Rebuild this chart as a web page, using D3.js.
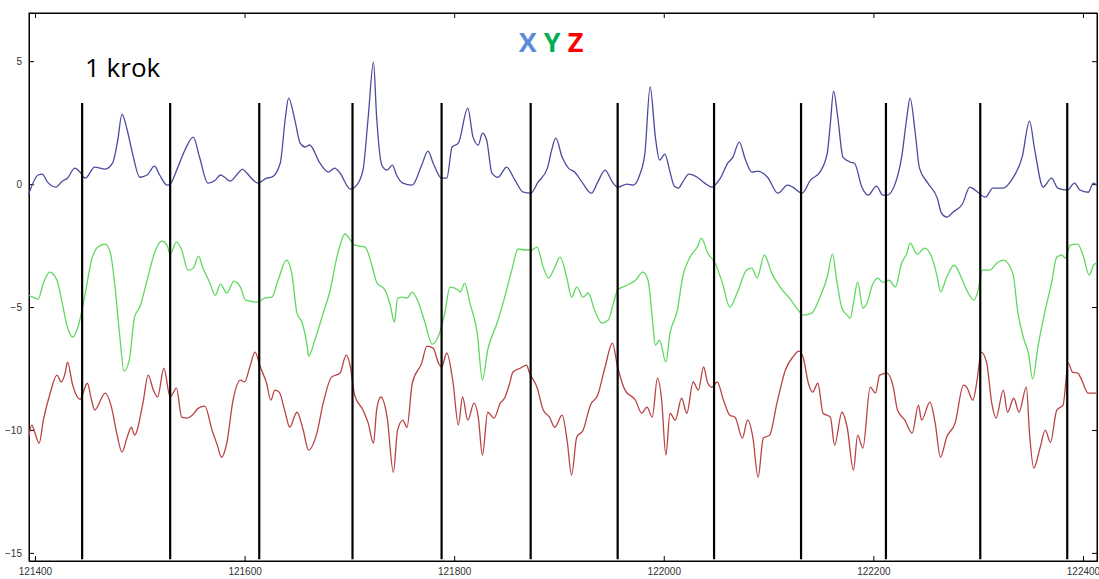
<!DOCTYPE html>
<html>
<head>
<meta charset="utf-8">
<script src="https://cdn.jsdelivr.net/npm/d3@7"></script>
<style>
  body { margin: 0; background: #fff; }
  .axis text { font-family: "Liberation Sans", Arial, sans-serif; font-size: 10px; fill: #333; }
  .axis line, .axis path { stroke: #000; }
</style>
</head>
<body>
<div id="my_dataviz"></div>
<script>
// ---------------------------//
//       DATA                 //
// ---------------------------//

var xTicks = [121400, 121600, 121800, 122000, 122200, 122400];
var yTicks = [5, 0, -5, -10, -15];

// one step boundary per footfall
var stepX = [121445, 121529, 121614, 121703, 121788, 121873, 121956, 122048, 122131, 122212, 122302, 122385];
var stepTop = 3.3, stepBottom = -15.26;

// X axis (blue)
var seriesX = [[121394,-0.41],[121403,0.37],[121407,0.41],[121412,0.08],[121420,-0.12],[121426,0.12],[121431,0.24],[121438,0.65],[121443,0.49],[121448,0.24],[121457,0.69],[121467,0.61],[121474,0.85],[121479,1.79],[121483,2.85],[121488,2.20],[121493,1.26],[121500,0.28],[121507,0.37],[121514,0.73],[121519,0.37],[121526,-0.04],[121529,0],[121536,0.65],[121543,1.38],[121551,1.91],[121557,1.10],[121565,0.04],[121572,0.16],[121577,0.37],[121581,0.28],[121586,0.12],[121594,0.45],[121598,0.61],[121602,0.45],[121613,0.04],[121621,0.24],[121626,0.28],[121634,0.85],[121639,2.73],[121642,3.50],[121648,2.60],[121653,1.67],[121658,1.51],[121662,1.59],[121672,0.85],[121680,0.49],[121686,0.65],[121691,0.45],[121701,-0.20],[121707,-0.04],[121713,0.57],[121718,2.73],[121723,4.96],[121726,2.73],[121731,0.77],[121736,0.57],[121741,0.77],[121745,0.37],[121751,0.04],[121760,-0.04],[121769,0.77],[121775,1.34],[121780,0.85],[121788,0.24],[121793,0.24],[121798,1.51],[121804,1.67],[121813,3.09],[121818,1.91],[121823,1.59],[121827,2.07],[121831,1.79],[121836,0.45],[121842,0.28],[121850,0.69],[121858,0.16],[121866,-0.33],[121873,-0.37],[121880,0.08],[121889,0.65],[121893,1.38],[121897,1.87],[121903,1.10],[121909,0.65],[121915,0.49],[121922,0.08],[121931,-0.37],[121937,0.08],[121944,0.57],[121951,0.08],[121956,-0.12],[121965,0],[121971,-0.04],[121977,0.37],[121982,1.26],[121987,3.95],[121992,1.91],[121996,0.98],[122001,1.22],[122006,0.49],[122010,-0.08],[122014,-0.16],[122018,0.08],[122024,0.41],[122032,0.28],[122039,0.04],[122046,-0.12],[122054,0.24],[122061,0.85],[122066,1.10],[122072,1.71],[122078,0.98],[122084,0.49],[122090,0.53],[122099,0.28],[122109,-0.37],[122118,-0.04],[122123,-0.12],[122132,-0.37],[122140,0.16],[122149,0.49],[122156,1.26],[122159,2.48],[122162,3.78],[122166,2.73],[122171,1.10],[122178,0.89],[122182,0.85],[122189,-0.12],[122195,-0.45],[122203,-0.08],[122209,-0.45],[122213,-0.45],[122221,0.04],[122227,1.10],[122232,2.73],[122235,3.50],[122240,2.07],[122244,0.65],[122252,0.04],[122261,-0.57],[122265,-1.18],[122270,-1.34],[122276,-1.14],[122285,-0.81],[122292,-0.12],[122297,-0.24],[122307,-0.53],[122314,-0.16],[122324,-0.16],[122333,0.24],[122342,1.10],[122349,2.56],[122354,1.38],[122362,-0.12],[122370,0.24],[122376,-0.16],[122385,-0.24],[122392,0.04],[122397,-0.24],[122405,-0.33],[122410,0.04],[122413,-0.04]];

// Y axis (green)
var seriesY = [[121394,-4.52],[121398,-4.60],[121403,-4.68],[121408,-4.03],[121414,-3.58],[121421,-3.91],[121426,-4.84],[121431,-5.82],[121436,-6.22],[121441,-5.82],[121448,-4.43],[121454,-3.09],[121460,-2.56],[121467,-2.44],[121472,-2.81],[121476,-4.03],[121481,-6.22],[121485,-7.61],[121490,-7.16],[121495,-5.41],[121500,-5.00],[121507,-3.91],[121514,-2.81],[121521,-2.32],[121526,-2.48],[121529,-2.85],[121535,-2.36],[121540,-2.68],[121546,-3.50],[121551,-3.42],[121556,-2.93],[121560,-3.38],[121567,-4.03],[121572,-4.52],[121577,-4.07],[121583,-4.43],[121590,-3.95],[121596,-4.19],[121601,-4.72],[121613,-4.80],[121619,-4.64],[121626,-4.60],[121632,-3.91],[121640,-3.09],[121645,-3.62],[121650,-5.25],[121655,-5.65],[121660,-6.67],[121661,-7.00],[121667,-6.35],[121675,-5.25],[121681,-4.43],[121689,-2.81],[121696,-2.03],[121701,-2.28],[121705,-2.48],[121715,-2.56],[121722,-3.38],[121726,-3.99],[121734,-4.31],[121739,-4.92],[121743,-5.61],[121746,-4.64],[121751,-4.60],[121755,-4.64],[121760,-4.39],[121765,-4.72],[121772,-5.61],[121779,-6.51],[121786,-6.06],[121791,-5.25],[121796,-4.19],[121804,-4.31],[121806,-4.39],[121810,-4.03],[121815,-4.84],[121822,-6.06],[121827,-7.97],[121832,-6.75],[121841,-5.65],[121848,-4.64],[121855,-3.50],[121861,-2.64],[121868,-2.68],[121874,-2.68],[121879,-2.56],[121885,-3.38],[121890,-3.82],[121896,-3.38],[121901,-2.97],[121908,-3.91],[121912,-4.60],[121917,-4.19],[121923,-4.60],[121928,-4.43],[121934,-5.13],[121941,-5.65],[121947,-5.53],[121952,-4.84],[121956,-4.31],[121963,-4.15],[121973,-3.91],[121980,-3.58],[121985,-3.91],[121989,-5.41],[121992,-6.55],[121996,-6.35],[122002,-7.24],[122006,-6.06],[122013,-5.13],[122018,-3.78],[122025,-2.97],[122032,-2.56],[122036,-2.20],[122042,-2.81],[122049,-3.21],[122056,-4.03],[122063,-5.00],[122070,-4.43],[122079,-3.50],[122084,-3.42],[122089,-3.82],[122096,-2.89],[122103,-3.62],[122111,-4.19],[122120,-4.64],[122130,-5.21],[122133,-5.33],[122141,-5.25],[122149,-4.60],[122156,-3.78],[122161,-2.85],[122165,-3.91],[122170,-5.04],[122175,-5.33],[122178,-5.45],[122181,-4.84],[122185,-3.99],[122190,-5.04],[122194,-4.84],[122199,-4.11],[122204,-3.82],[122209,-3.99],[122215,-3.91],[122221,-4.19],[122227,-3.21],[122232,-2.81],[122235,-2.40],[122242,-2.85],[122249,-2.60],[122256,-3.01],[122261,-3.78],[122264,-4.39],[122270,-3.78],[122277,-3.30],[122285,-3.91],[122290,-4.39],[122296,-4.72],[122300,-4.31],[122304,-3.50],[122311,-3.50],[122318,-3.21],[122324,-3.09],[122333,-3.62],[122338,-5.25],[122343,-6.22],[122348,-6.88],[122352,-7.93],[122357,-6.63],[122364,-5.13],[122370,-4.03],[122375,-2.97],[122380,-2.89],[122383,-3.01],[122388,-2.48],[122395,-2.44],[122400,-2.89],[122406,-3.70],[122410,-3.30],[122413,-3.21]];

// Z axis (red)
var seriesZ = [[121394,-10.29],[121397,-9.80],[121400,-10.13],[121404,-10.54],[121408,-9.60],[121414,-8.58],[121421,-7.77],[121425,-8.05],[121429,-7.65],[121431,-7.24],[121436,-8.18],[121443,-8.75],[121450,-8.10],[121454,-8.79],[121457,-9.19],[121467,-8.50],[121473,-9.07],[121478,-10.13],[121483,-10.90],[121488,-10.29],[121492,-9.89],[121495,-10.21],[121503,-8.91],[121508,-7.77],[121513,-8.38],[121517,-8.66],[121523,-7.49],[121529,-8.66],[121535,-8.30],[121540,-9.48],[121545,-9.52],[121550,-9.40],[121556,-9.11],[121562,-9.03],[121569,-10.01],[121574,-10.62],[121578,-11.11],[121583,-10.54],[121589,-8.79],[121596,-7.97],[121600,-8.05],[121605,-7.44],[121610,-6.83],[121615,-7.44],[121621,-8.10],[121625,-8.79],[121629,-8.38],[121633,-8.46],[121639,-9.32],[121643,-9.89],[121650,-9.28],[121656,-10.01],[121661,-10.82],[121669,-10.13],[121675,-8.91],[121683,-7.85],[121691,-7.69],[121697,-6.96],[121701,-7.44],[121705,-8.58],[121713,-9.19],[121718,-9.72],[121723,-10.54],[121726,-9.19],[121730,-8.66],[121736,-9.48],[121742,-11.72],[121746,-10.01],[121751,-9.60],[121755,-9.89],[121760,-8.10],[121769,-7.28],[121774,-6.59],[121780,-6.67],[121785,-7.28],[121788,-7.44],[121793,-6.87],[121799,-8.10],[121804,-9.80],[121808,-8.66],[121813,-9.60],[121819,-8.91],[121823,-9.48],[121827,-11.02],[121832,-9.28],[121838,-9.52],[121844,-8.91],[121848,-8.71],[121853,-8.10],[121856,-7.65],[121863,-7.49],[121869,-7.36],[121872,-7.69],[121879,-8.26],[121885,-9.19],[121891,-9.48],[121896,-9.89],[121903,-9.40],[121908,-10.50],[121912,-11.84],[121917,-10.29],[121923,-10.01],[121930,-8.99],[121937,-8.58],[121944,-7.44],[121951,-6.47],[121956,-7.44],[121963,-8.38],[121973,-8.79],[121979,-9.32],[121984,-9.07],[121989,-9.48],[121994,-7.89],[121998,-8.79],[122002,-11.02],[122006,-9.32],[122011,-9.60],[122017,-8.71],[122022,-9.32],[122028,-8.05],[122033,-8.38],[122038,-7.44],[122042,-8.10],[122046,-8.26],[122051,-8.05],[122057,-8.79],[122063,-9.40],[122068,-9.48],[122075,-10.33],[122080,-9.60],[122085,-10.29],[122090,-11.92],[122095,-10.33],[122101,-10.21],[122108,-8.91],[122116,-7.57],[122123,-7.04],[122129,-6.79],[122133,-7.04],[122138,-8.10],[122142,-8.46],[122147,-8.10],[122152,-9.32],[122159,-9.48],[122163,-10.62],[122170,-9.28],[122175,-9.89],[122181,-11.63],[122185,-10.21],[122190,-10.74],[122197,-8.26],[122202,-8.50],[122206,-7.77],[122213,-7.69],[122219,-8.26],[122223,-9.19],[122230,-9.60],[122237,-10.13],[122243,-8.99],[122246,-9.60],[122254,-8.87],[122259,-9.72],[122264,-11.11],[122270,-10.29],[122278,-9.72],[122286,-8.18],[122289,-8.26],[122295,-8.79],[122299,-7.97],[122303,-6.83],[122308,-7.24],[122313,-8.91],[122317,-9.52],[122324,-8.38],[122328,-9.28],[122334,-8.71],[122339,-9.28],[122346,-8.26],[122349,-10.13],[122353,-11.55],[122359,-10.74],[122364,-10.01],[122369,-10.50],[122375,-9.19],[122381,-8.99],[122386,-7.28],[122390,-7.65],[122395,-7.69],[122398,-7.89],[122405,-8.50],[122411,-8.50],[122413,-8.50]];

var seriesColors = ["#4b4b9e", "#5fd85f", "#b94343"];

// set the dimensions and margins of the graph
var margin = {top: 13, right: 2, bottom: 18, left: 29},
    width = 1099 - margin.left - margin.right,
    height = 579 - margin.top - margin.bottom;

var svg = d3.select("#my_dataviz")
  .append("svg")
    .attr("width", width + margin.left + margin.right)
    .attr("height", height + margin.top + margin.bottom)
  .append("g")
    .attr("transform", "translate(" + margin.left + "," + margin.top + ")");

// ---------------------------//
//       AXIS  AND SCALE      //
// ---------------------------//

var x = d3.scaleLinear()
  .domain([121394.3, 122413.4])
  .range([0, width]);

var y = d3.scaleLinear()
  .domain([-15.33, 6.96])
  .range([height, 0]);

// ticks point inwards on all four sides
svg.append("g")
  .attr("class", "axis")
  .attr("transform", "translate(0," + height + ")")
  .call(d3.axisBottom(x).tickValues(xTicks).tickFormat(d3.format("d"))
    .tickSizeInner(-5).tickSizeOuter(0).tickPadding(7));

svg.append("g")
  .attr("class", "axis")
  .call(d3.axisTop(x).tickValues(xTicks).tickFormat("")
    .tickSizeInner(-5).tickSizeOuter(0));

svg.append("g")
  .attr("class", "axis")
  .call(d3.axisLeft(y).tickValues(yTicks)
    .tickSizeInner(-5).tickSizeOuter(0).tickPadding(7));

svg.append("g")
  .attr("class", "axis")
  .attr("transform", "translate(" + width + ",0)")
  .call(d3.axisRight(y).tickValues(yTicks).tickFormat("")
    .tickSizeInner(-5).tickSizeOuter(0));

// box around the plot
svg.append("rect")
  .attr("width", width)
  .attr("height", height)
  .style("fill", "none")
  .style("stroke", "#000")
  .style("stroke-width", 1);

// ---------------------------//
//       LINES                //
// ---------------------------//

var line = d3.line()
  .curve(d3.curveMonotoneX)
  .x(function(d) { return x(d[0]); })
  .y(function(d) { return y(d[1]); });

svg.selectAll("signal")
  .data([seriesX, seriesY, seriesZ])
  .enter()
  .append("path")
    .attr("d", line)
    .style("fill", "none")
    .style("stroke", function(d, i) { return seriesColors[i]; })
    .style("stroke-width", 1.3);

// step markers
svg.selectAll("step")
  .data(stepX)
  .enter()
  .append("line")
    .attr("x1", function(d) { return x(d); })
    .attr("x2", function(d) { return x(d); })
    .attr("y1", y(stepTop))
    .attr("y2", y(stepBottom))
    .style("stroke", "#000")
    .style("stroke-width", 2.2);

// ---------------------------//
//       LABELS               //
// ---------------------------//

svg.append("text")
  .attr("x", 56)
  .attr("y", 64)
  .style("font-family", "'Open Sans', sans-serif")
  .style("font-size", "26px")
  .style("fill", "#000")
  .text("1 krok");

var title = svg.append("text")
  .attr("x", 522)
  .attr("y", 39)
  .attr("text-anchor", "middle")
  .style("font-family", "'Open Sans', sans-serif")
  .style("font-weight", "bold")
  .style("font-size", "27px");
title.append("tspan").style("fill", "#5b8bd9").text("X");
title.append("tspan").text(" ");
title.append("tspan").style("fill", "#00b050").text("Y");
title.append("tspan").text(" ");
title.append("tspan").style("fill", "#ff0000").text("Z");
</script>
</body>
</html>
